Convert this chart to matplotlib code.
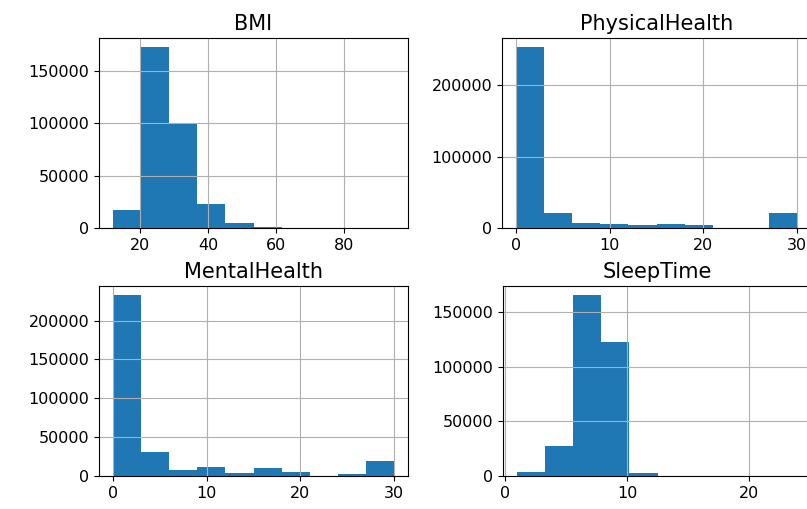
import matplotlib
matplotlib.use("Agg")
import matplotlib.pyplot as plt
from matplotlib.ticker import MultipleLocator
import numpy as np

# column names and ranges (min, max) for the 10-bin histograms
columns = ["BMI", "PhysicalHealth", "MentalHealth", "SleepTime"]
ranges = {"BMI": (12.02, 94.85), "PhysicalHealth": (0, 30),
          "MentalHealth": (0, 30), "SleepTime": (1, 24)}

# counts per bin
bmi_counts = [17400, 173100, 100300, 23100, 5060, 620, 160, 40, 10, 5]
physical_counts = [253200, 20800, 7400, 6000, 4200, 6000, 3700, 500, 600, 20800]
mental_counts = [232800, 31100, 8100, 11100, 3400, 9800, 5100, 400, 2100, 18700]
sleep_counts = [3600, 27600, 165800, 122700, 2400, 400, 100, 30, 10, 30]

counts = {"BMI": bmi_counts, "PhysicalHealth": physical_counts,
          "MentalHealth": mental_counts, "SleepTime": sleep_counts}

plt.rcParams["font.family"] = ["DejaVu Sans"]
plt.rcParams["xtick.labelsize"] = 11.5
plt.rcParams["ytick.labelsize"] = 11.5

fig = plt.figure(figsize=(8.07, 5.09), dpi=100)

# axes boxes in pixels (left, top, right, bottom); right column runs off the edge
W, H = 807, 509
boxes = [(99, 38, 408, 228), (502, 38, 811, 228),
         (99, 286, 408, 476), (503, 286, 812, 476)]

for col, (l, t, r, b) in zip(columns, boxes):
    ax = fig.add_axes([l / W, 1 - b / H, (r - l) / W, (b - t) / H])
    lo, hi = ranges[col]
    edges = np.linspace(lo, hi, 11)
    ax.hist(edges[:-1], bins=edges, weights=counts[col], color="#1f77b4")
    ax.set_title(col, fontsize=15)
    ax.grid(True)
    if col == "SleepTime":
        ax.xaxis.set_major_locator(MultipleLocator(10))

fig.savefig("out.png", dpi=100)
